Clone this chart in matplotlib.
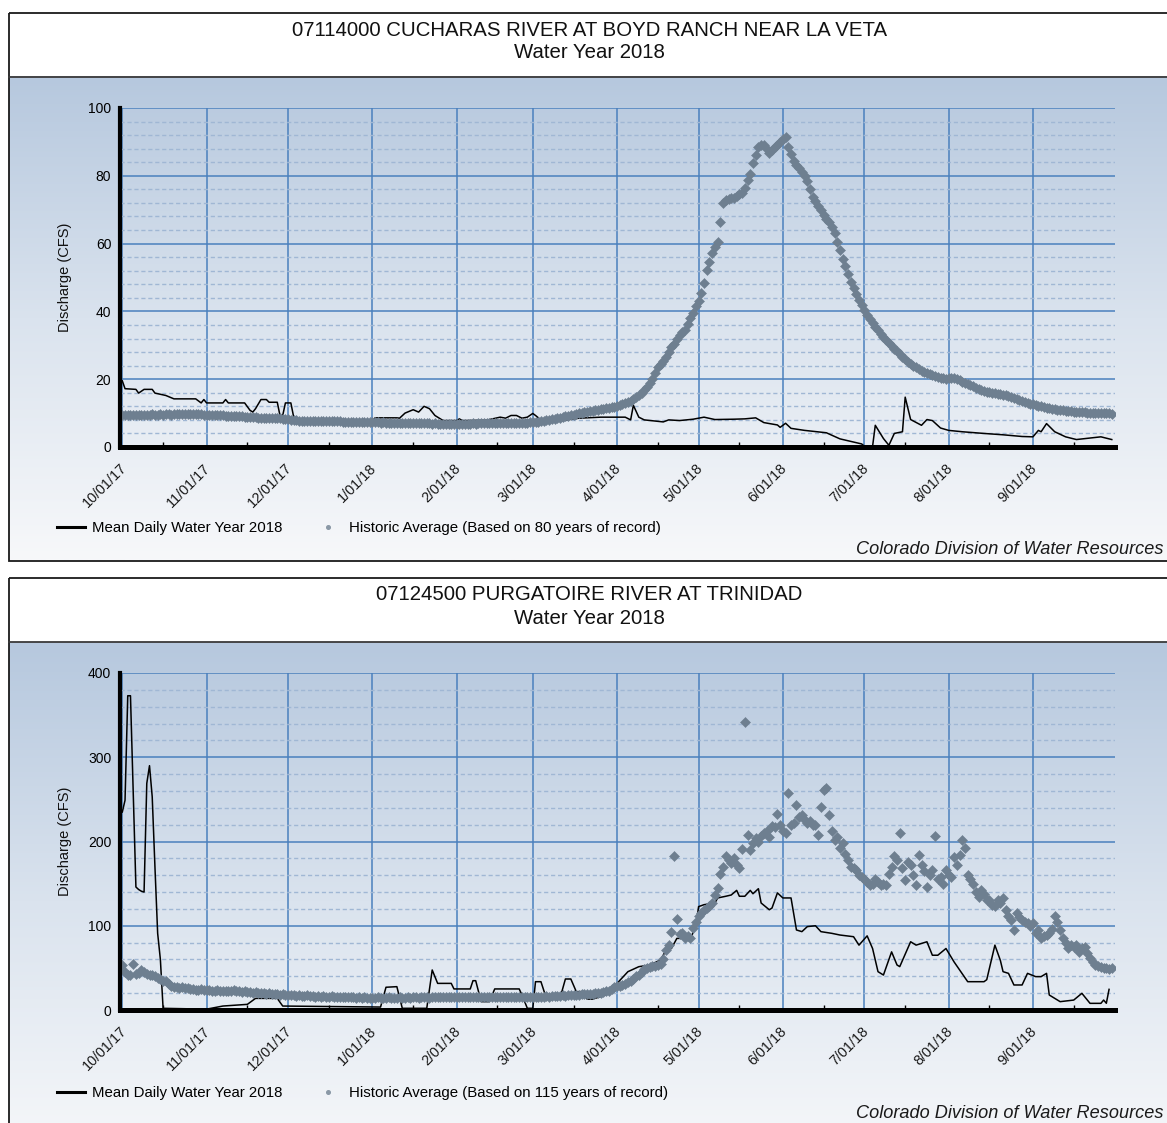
import datetime as dt
import numpy as np
import matplotlib
matplotlib.use("Agg")
import matplotlib.pyplot as plt
from matplotlib.ticker import MultipleLocator, FixedLocator
from matplotlib.transforms import ScaledTranslation
from matplotlib.patches import Rectangle
from matplotlib.lines import Line2D
from matplotlib.colors import LinearSegmentedColormap

plt.rcParams['font.family'] = ['Liberation Sans', 'DejaVu Sans']

# ---------------- data ----------------
START = dt.date(2017, 10, 1)
month_starts = [dt.date(2017, 10, 1), dt.date(2017, 11, 1), dt.date(2017, 12, 1),
                dt.date(2018, 1, 1), dt.date(2018, 2, 1), dt.date(2018, 3, 1),
                dt.date(2018, 4, 1), dt.date(2018, 5, 1), dt.date(2018, 6, 1),
                dt.date(2018, 7, 1), dt.date(2018, 8, 1), dt.date(2018, 9, 1)]
tick_labels = ["10/01/17", "11/01/17", "12/01/17", "1/01/18", "2/01/18", "3/01/18",
               "4/01/18", "5/01/18", "6/01/18", "7/01/18", "8/01/18", "9/01/18"]
tick_days = [(d - START).days for d in month_starts]
mid_days = [(d.replace(day=16) - START).days for d in month_starts]

# 07114000 Cucharas River - historic average (daily, WY2018 calendar)
hist1 = (
    [9.3, 9.4, 9.4, 9.3, 9.5, 9.4, 9.5, 9.4, 9.5, 9.5, 9.4, 9.6, 9.5, 9.5, 9.6, 9.5,
     9.6, 9.6, 9.5, 9.7, 9.6, 9.6, 9.7, 9.6, 9.7, 9.6, 9.6, 9.7, 9.6, 9.6, 9.5] +
    [9.5, 9.5, 9.4, 9.4, 9.3, 9.3, 9.3, 9.2, 9.2, 9.1, 9.1, 9.0, 9.0, 9.0, 8.9,
     8.9, 8.8, 8.8, 8.8, 8.7, 8.7, 8.7, 8.6, 8.6, 8.6, 8.5, 8.5, 8.5, 8.4, 8.4] +
    [8.2, 8.0, 7.9, 7.9, 7.8, 7.8, 7.8, 7.8, 7.7, 7.7, 7.7, 7.7, 7.7, 7.6, 7.7, 7.6,
     7.6, 7.6, 7.6, 7.6, 7.5, 7.5, 7.5, 7.5, 7.5, 7.4, 7.4, 7.4, 7.4, 7.4, 7.3] +
    [7.3, 7.3, 7.3, 7.2, 7.3, 7.2, 7.2, 7.2, 7.2, 7.1, 7.2, 7.1, 7.1, 7.1, 7.1, 7.0,
     7.1, 7.0, 7.0, 7.0, 7.0, 7.0, 6.9, 7.0, 6.9, 6.9, 6.9, 6.9, 6.9, 6.9, 6.9] +
    [6.9, 6.9, 6.9, 6.9, 6.9, 6.9, 7.0, 6.9, 7.0, 7.0, 7.0, 7.0, 7.0, 7.0, 7.1, 7.0,
     7.1, 7.1, 7.1, 7.1, 7.1, 7.2, 7.1, 7.2, 7.2, 7.2, 7.2, 7.3] +
    [7.3, 7.4, 7.5, 7.6, 7.7, 7.9, 8.0, 8.2, 8.3, 8.5, 8.7, 8.9, 9.0, 9.2, 9.4, 9.5,
     9.7, 9.9, 10.0, 10.2, 10.4, 10.5, 10.7, 10.8, 11.0, 11.1, 11.3, 11.4, 11.6, 11.8, 11.9] +
    [12.1, 12.4, 12.8, 13.1, 13.4, 13.7, 14.2, 14.7, 15.3, 16.0, 16.7, 17.8, 19.0, 20.2, 21.8,
     23.5, 24.5, 25.5, 26.5, 28.0, 29.5, 30.5, 32.0, 33.0, 33.8, 34.5, 36.2, 38.0, 39.6, 41.5] +
    [43.0, 45.5, 48.3, 52.1, 54.5, 57.1, 59.0, 60.5, 66.4, 72.0, 73.0, 73.2, 73.5, 73.5, 74.0,
     74.5, 75.0, 76.5, 78.7, 80.5, 83.7, 86.0, 88.5, 89.2, 89.0, 88.0, 86.8, 87.5, 88.5, 89.2, 90.0] +
    [90.8, 91.5, 88.5, 86.5, 84.5, 83.2, 82.3, 81.2, 80.0, 78.5, 76.0, 73.8, 72.5, 71.2, 69.9,
     68.5, 67.2, 66.4, 64.8, 63.0, 60.5, 58.0, 55.6, 53.3, 51.0, 48.8, 46.8, 45.0, 43.5, 42.0] +
    [40.3, 39.0, 37.8, 36.5, 35.4, 34.4, 33.4, 32.5, 31.6, 30.7, 29.8, 29.0, 28.2, 27.4, 26.6,
     25.9, 25.2, 24.6, 24.0, 23.5, 23.0, 22.5, 22.1, 21.7, 21.4, 21.1, 20.8, 20.6, 20.4, 20.3, 20.2] +
    [20.3, 20.5, 20.4, 20.1, 19.7, 19.3, 19.0, 18.6, 18.3, 17.9, 17.5, 17.1, 16.8, 16.5, 16.3,
     16.1, 15.9, 15.8, 15.6, 15.5, 15.4, 15.2, 15.0, 14.7, 14.4, 14.1, 13.8, 13.5, 13.2, 13.0, 12.8] +
    [12.6, 12.4, 12.2, 12.0, 11.8, 11.6, 11.4, 11.2, 11.1, 11.0, 10.9, 10.8, 10.7, 10.6, 10.5,
     10.4, 10.3, 10.3, 10.2, 10.2, 10.1, 10.1, 10.1, 10.0, 10.0, 10.0, 9.9, 9.9, 9.9, 9.8]
)

# 07114000 mean daily WY2018 (day index, cfs)
line1_days = [0, 1, 5, 6, 8, 11, 12, 16, 19, 27, 29, 30, 31, 37, 38, 39, 45, 47, 48, 49, 51, 53, 54,
              57, 58, 59, 60, 62, 63, 64, 70, 80, 92, 93, 101, 102, 104, 107, 109, 111, 113, 115,
              118, 123, 124, 125, 134, 139, 141, 143, 145, 147, 149, 151, 152, 154, 160, 168, 176,
              185, 187, 188, 190, 192, 199, 201, 205, 210, 214, 218, 225, 229, 233, 236, 241, 242,
              244, 246, 251, 259, 264, 272, 273, 276, 277, 280, 282, 284, 287, 288, 290, 294, 296,
              298, 301, 304, 309, 317, 324, 331, 335, 337, 338, 340, 343, 347, 351, 360, 364]
line1_vals = [19.5, 17.2, 17.0, 15.9, 17.0, 17.0, 15.9, 15.2, 14.2, 14.2, 13.0, 14.0, 13.0, 13.0,
              14.0, 13.0, 13.0, 10.8, 10.3, 11.3, 14.0, 14.0, 13.2, 13.2, 9.3, 9.3, 13.0, 13.0, 9.0,
              8.3, 7.8, 7.7, 7.7, 8.6, 8.6, 8.5, 10.0, 11.0, 10.3, 12.0, 11.3, 9.3, 7.8, 7.8, 8.3,
              7.8, 7.9, 8.8, 8.5, 9.3, 9.3, 8.5, 8.8, 9.9, 9.3, 8.0, 7.6, 8.5, 8.8, 8.8, 8.0, 12.3,
              8.8, 8.0, 7.4, 8.0, 7.8, 8.2, 8.8, 8.1, 8.2, 8.3, 8.6, 7.2, 6.5, 5.8, 7.0, 5.5, 4.9,
              4.2, 2.4, 0.9, 0.2, 0.2, 6.4, 2.5, 0.5, 4.0, 4.5, 14.7, 8.1, 6.4, 8.1, 7.8, 5.6, 4.9,
              4.5, 4.0, 3.6, 3.1, 3.0, 4.9, 4.5, 6.9, 4.5, 3.0, 2.2, 3.0, 2.2]

# 07124500 Purgatoire River - historic average (daily)
hist2 = (
    [53, 45, 42, 41, 55, 43, 44, 47, 45, 43, 42, 41, 40, 38, 37, 35, 34, 31, 28, 27, 27, 26,
     27, 26, 26, 25, 25, 24, 24, 25, 24] +
    [24, 24, 23, 23, 24, 23, 23, 22, 23, 22, 24, 23, 22, 21, 22, 21, 21, 20, 21, 20, 20, 20,
     19, 20, 19, 19, 19, 18, 19, 18] +
    [18, 18, 18, 17, 18, 17, 17, 18, 17, 17, 16, 17, 16, 17, 16, 16, 17, 16, 16, 15, 16, 15,
     16, 15, 15, 14, 15, 14, 15, 14, 14] +
    [14, 14, 15, 14, 14, 14, 15, 14, 14, 14, 15, 14, 14, 15, 14, 15, 15, 14, 15, 15, 15, 14,
     15, 15, 15, 16, 15, 15, 16, 15, 15] +
    [15, 16, 15, 16, 16, 15, 16, 16, 16, 15, 16, 16, 16, 15, 16, 16, 16, 16, 16, 15, 16, 16,
     16, 16, 16, 16, 16, 16] +
    [16, 16, 16, 16, 16, 17, 16, 17, 17, 17, 17, 18, 17, 18, 18, 18, 18, 18, 19, 19, 19, 19,
     19, 20, 20, 20, 21, 22, 23, 25, 27] +
    [28, 29, 30, 31, 33, 35, 37, 40, 42, 45, 49, 50, 51, 52, 52, 53, 55, 60, 71, 77, 93, 183,
     108, 90, 91, 86, 88, 85, 97, 104] +
    [111, 115, 119, 121, 124, 127, 137, 145, 162, 170, 183, 178, 175, 180, 172, 169, 191, 342,
     208, 190, 198, 204, 200, 206, 210, 212, 205, 218, 217, 233, 219] +
    [212, 210, 257, 219, 222, 243, 229, 232, 225, 222, 224, 220, 219, 208, 241, 261, 263, 231,
     212, 202, 205, 192, 198, 185, 178, 170, 168, 166, 160, 158] +
    [155, 152, 148, 150, 156, 152, 148, 150, 148, 162, 170, 183, 178, 210, 168, 154, 176, 172,
     160, 148, 184, 172, 165, 146, 160, 166, 206, 156, 158, 150, 166] +
    [160, 158, 182, 172, 184, 202, 192, 160, 156, 150, 140, 134, 142, 138, 130, 131, 125, 123,
     130, 127, 133, 119, 112, 107, 95, 115, 110, 107, 104, 103, 100] +
    [103, 91, 95, 85, 88, 89, 91, 96, 111, 105, 95, 85, 80, 73, 77, 75, 77, 69, 73, 75, 68,
     62, 57, 54, 52, 51, 50, 50, 49, 50]
)

# 07124500 mean daily WY2018 (day index, cfs)
line2_days = [0, 1, 2, 3, 5, 6, 7, 8, 9, 10, 11, 12, 13, 14, 15, 31, 37, 46, 49, 57, 59, 95, 97,
              101, 103, 112, 114, 116, 121, 122, 128, 129, 130, 132, 135, 137, 146, 147, 149,
              151, 152, 154, 156, 161, 163, 165, 167, 169, 171, 173, 178, 182, 186, 190, 194,
              198, 200, 202, 204, 209, 211, 212, 214, 218, 219, 222, 224, 226, 227, 229, 231,
              232, 234, 235, 238, 239, 241, 243, 246, 248, 250, 252, 255, 257, 261, 264, 269,
              271, 274, 276, 278, 280, 283, 285, 286, 290, 292, 296, 298, 300, 303, 306, 311,
              317, 318, 321, 323, 324, 326, 328, 331, 333, 336, 338, 340, 341, 345, 350, 353,
              356, 360, 361, 362, 363]
line2_vals = [235, 249, 373, 373, 146, 143, 141, 140, 269, 290, 253, 170, 91, 60, 2, 1, 4.7, 6.7,
              13.8, 13.8, 4.7, 3.5, 27, 27.7, 2, 2, 47.5, 31.6, 31.6, 25, 25, 34.8, 34.8, 9.9,
              9.9, 25, 25, 18, 2, 2, 33.6, 33.6, 13.8, 13.8, 36.8, 36.8, 21.8, 21.8, 12.9, 12.9,
              18, 31.6, 45.5, 51.4, 53.4, 59.3, 71, 73, 85, 85, 99, 122.7, 125, 127, 133, 135,
              136.5, 142, 135, 135, 142, 138, 144, 127, 119, 121, 139, 133, 133, 95, 93, 99, 100,
              93, 91, 89, 87, 77, 88, 73, 45.5, 41.5, 69, 53.4, 51.5, 81, 77, 81, 65, 65, 73, 57,
              33.6, 33.6, 36, 77, 59, 45.5, 43.5, 29.7, 29.7, 43.5, 39.6, 39.6, 43.5, 17.8, 9.9,
              11.8, 19.8, 7.9, 7.9, 11.8, 8, 24.5]

days = np.arange(len(hist1))

stations = [
    dict(title="07114000 CUCHARAS RIVER AT BOYD RANCH NEAR LA VETA", sub="Water Year 2018",
         hist=hist1, ldays=line1_days, lvals=line1_vals, ymax=100, ymaj=20, ymin=4,
         hist_label="Historic Average (Based on 80 years of record)"),
    dict(title="07124500 PURGATOIRE RIVER AT TRINIDAD", sub="Water Year 2018",
         hist=hist2, ldays=line2_days, lvals=line2_vals, ymax=400, ymaj=100, ymin=20,
         hist_label="Historic Average (Based on 115 years of record)"),
]
line_label = "Mean Daily Water Year 2018"
footer = "Colorado Division of Water Resources"

# ---------------- layout (pixels) ----------------
W, H, DPI = 1167, 1123, 100
fig = plt.figure(figsize=(W / DPI, H / DPI), dpi=DPI)
fig.patch.set_facecolor('white')

bg = fig.add_axes([0, 0, 1, 1], zorder=0)
bg.axis('off')
cmap = LinearSegmentedColormap.from_list('bgr', ['#b6c8de', '#dae3ee', '#f7f8fa'])
grad = np.linspace(0, 1, 256).reshape(-1, 1)

layouts = [
    dict(box_top=12.5, sep=77, box_bottom=560.5, ax_top=108, ax_bottom=447,
         t1=30, t2=53, leg=528, foot=550),
    dict(box_top=577.5, sep=642, box_bottom=1160, ax_top=673, ax_bottom=1010,
         t1=594, t2=618, leg=1093, foot=1114),
]
AX_L, AX_R = 119.6, 1114.5

for st, lay in zip(stations, layouts):
    bg.imshow(grad, extent=[9, 1200, lay['box_bottom'], lay['sep']], aspect='auto',
              cmap=cmap, interpolation='bilinear', zorder=0)
    bg.add_patch(Rectangle((8.5, lay['box_top']), 1200, lay['box_bottom'] - lay['box_top'],
                           fill=False, edgecolor='#1a1a1a', lw=1.3, zorder=3))
    bg.plot([8.5, 1200], [lay['sep'], lay['sep']], color='#3a3a3a', lw=1.3, zorder=3)

    fig.text(589.5 / W, 1 - lay['t1'] / H, st['title'], ha='center', va='center',
             fontsize=14.7, color='#111111')
    fig.text(589.5 / W, 1 - lay['t2'] / H, st['sub'], ha='center', va='center',
             fontsize=14.7, color='#111111')

    ax = fig.add_axes([AX_L / W, 1 - lay['ax_bottom'] / H, (AX_R - AX_L) / W,
                       (lay['ax_bottom'] - lay['ax_top']) / H], zorder=2)
    ax.set_facecolor('none')
    ax.plot(st['ldays'], st['lvals'], color='black', lw=1.1, zorder=3)
    ax.plot(days, st['hist'], linestyle='none', marker='D', ms=4.6, color='#6e7f90',
            mec='#6e7f90', mew=0.4, zorder=4)
    ax.set_xlim(-1, 365)
    ax.set_ylim(0, st['ymax'])

    for s in ('top', 'right'):
        ax.spines[s].set_visible(False)
    ax.spines['left'].set_linewidth(3.0)
    ax.spines['bottom'].set_linewidth(3.6)
    ax.spines['left'].set_zorder(6)
    ax.spines['bottom'].set_zorder(6)

    ax.xaxis.set_major_locator(FixedLocator(tick_days))
    ax.xaxis.set_minor_locator(FixedLocator(mid_days))
    ax.set_xticklabels(tick_labels, rotation=45, ha='right', va='top',
                       rotation_mode='anchor', fontsize=10.4, color='#1a1a1a')
    ax.yaxis.set_major_locator(MultipleLocator(st['ymaj']))
    ax.yaxis.set_minor_locator(MultipleLocator(st['ymin']))
    ax.tick_params(axis='x', which='major', length=0, pad=10)
    ax.tick_params(axis='x', which='minor', direction='in', length=3.5, width=1.0,
                   color='black')
    ax.tick_params(axis='y', which='both', length=0, pad=6, labelsize=10,
                   labelcolor='#000000')
    ax.set_axisbelow(True)
    ax.grid(which='major', axis='both', color='#4a80bd', lw=1.1)
    ax.grid(which='minor', axis='y', color='#a0b7d4', lw=1.0, linestyle=(0, (3, 2)))
    for lbl in ax.get_xticklabels():
        lbl.set_transform(lbl.get_transform() + ScaledTranslation(-0.03, 0, fig.dpi_scale_trans))

    fig.text(65 / W, 1 - (lay['ax_top'] + lay['ax_bottom']) / 2 / H, 'Discharge (CFS)',
             rotation=90, ha='center', va='center', fontsize=10.5, color='#111111')

    h_line = Line2D([], [], color='black', lw=2.2)
    h_pts = Line2D([], [], linestyle='none', marker='o', ms=2.6, color='#8a98a6')
    fig.legend([h_line, h_pts], [line_label, st['hist_label']], loc='center left',
               bbox_to_anchor=(57 / W, 1 - lay['leg'] / H), ncol=2, frameon=False,
               borderaxespad=0, borderpad=0, handlelength=1.85, handletextpad=0.5,
               columnspacing=2.1, fontsize=10.8)

    fig.text(1163 / W, 1 - lay['foot'] / H, footer, ha='right', va='center',
             style='italic', fontsize=13.1, color='#1a1a1a')

bg.set_xlim(0, W)
bg.set_ylim(H, 0)

fig.savefig('out.png', dpi=DPI, facecolor='white')
